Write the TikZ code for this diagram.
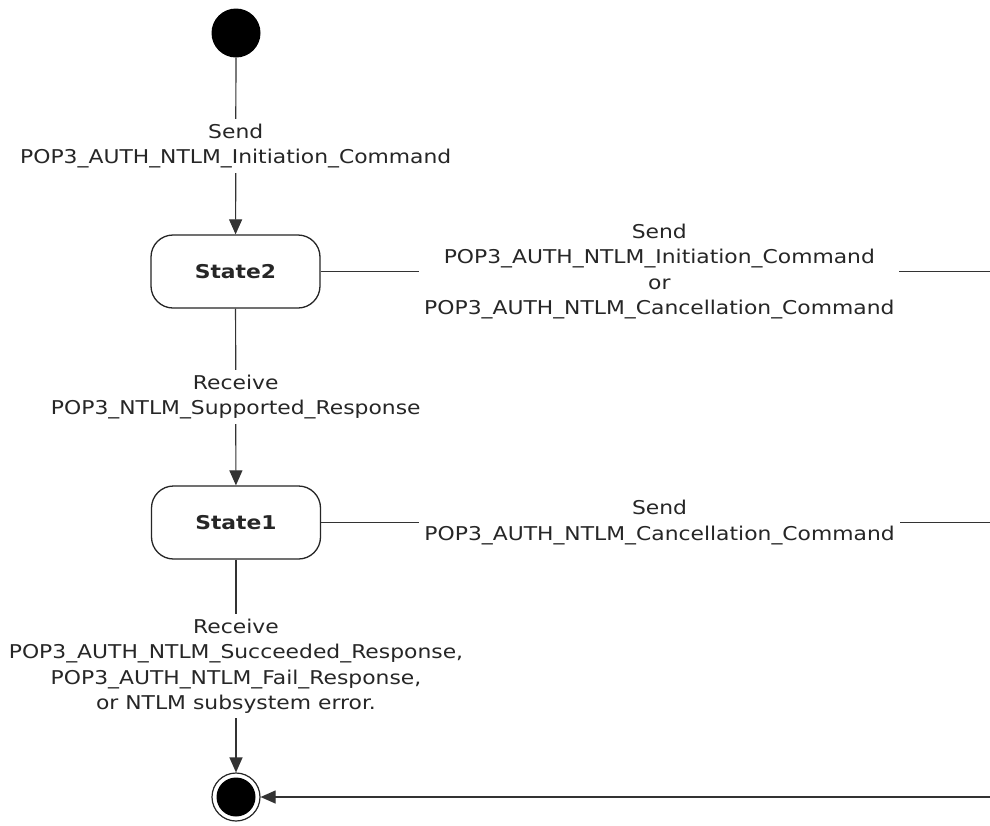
\documentclass[tikz,border=0pt]{standalone}
\usepackage{fontspec}
\setmainfont[FakeStretch=1.15]{DejaVu Sans}
\usetikzlibrary{arrows.meta}
\tikzset{
  txt/.style={font=\fontsize{19}{25.5}\selectfont, text=black!85},
  initst/.style={circle, fill=black, minimum size=49pt, inner sep=0pt},
  finring/.style={circle, draw=black!85, line width=1.2pt, minimum size=48pt, inner sep=0pt, fill=white},
  findot/.style={circle, fill=black, minimum size=39pt, inner sep=0pt},
  statebox/.style={txt, draw=black!85, line width=1.3pt, rounded corners=22pt, minimum width=169pt, minimum height=73pt, inner sep=0pt},
  conn/.style={draw=black!80, line width=1.2pt},
  arr/.style={-{Triangle[length=15pt,width=13pt]}},
  lbl/.style={txt, fill=white, align=center, inner sep=5pt},
}
\begin{document}
\begin{tikzpicture}[x=1pt,y=-1pt]
\useasboundingbox (0,0) rectangle (990,825);
\fill[white] (0,0) rectangle (990,825);

\node[initst] (init) at (236,33) {};
\node[statebox] (s2) at (235.5,271.5) {\textbf{State2}};
\node[statebox] (s1) at (236,522.5) {\textbf{State1}};
\node[finring] (fin) at (236,797) {};
\node[findot] (findot) at (236,797) {};

\coordinate (e2) at (990,271.5);
\coordinate (e1) at (990,522.5);
\coordinate (e0) at (990,797);

\draw[conn, arr] (init) -- node[lbl] {Send\\POP3\_AUTH\_NTLM\_Initiation\_Command} (s2);
\draw[conn, arr] (s2) -- node[lbl] {Receive\\POP3\_NTLM\_Supported\_Response} (s1);
\draw[conn, arr] (s1) -- node[lbl] {Receive\\POP3\_AUTH\_NTLM\_Succeeded\_Response,\\POP3\_AUTH\_NTLM\_Fail\_Response,\\or NTLM subsystem error.} (fin);

\draw[conn] (s2.east) -- node[lbl, pos=0.506] {Send\\POP3\_AUTH\_NTLM\_Initiation\_Command\\or\\POP3\_AUTH\_NTLM\_Cancellation\_Command} (e2);
\draw[conn] (s1.east) -- node[lbl, pos=0.506] {Send\\POP3\_AUTH\_NTLM\_Cancellation\_Command} (e1);
\draw[conn, arr] (e0) -- (fin);
\end{tikzpicture}
\end{document}
